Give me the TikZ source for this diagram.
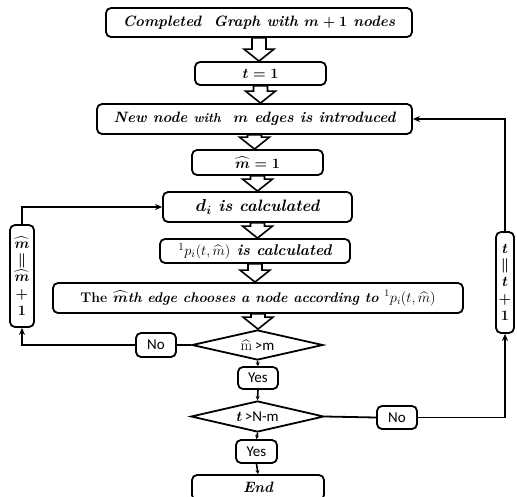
\documentclass[tikz,border=0pt]{standalone}
\usepackage{amsmath,bm}
\usepackage{fontspec}
\setsansfont{Carlito}
\usetikzlibrary{shapes.geometric,calc,arrows.meta}
\newcommand\blockarr[2]{\draw[blk] let \p1=(#1.south), \p2=(#2.north) in
  (\x1-7pt,\y1) -- (\x1+7pt,\y1) -- (\x1+7pt,\y2+12pt) -- (\x1+15pt,\y2+12pt) -- (\x1,\y2)
  -- (\x1-15pt,\y2+12pt) -- (\x1-7pt,\y2+12pt) -- cycle;}
\newcommand\condA{\mbox{$\widehat{\mathrm{m}}$\,\textsf{>m}}}
\newcommand\condB{\mbox{\boldmath$t$\unboldmath\,\textsf{>N-m}}}
\begin{document}
\begin{tikzpicture}[x=1pt,y=-1pt,
  box/.style={draw, line width=1.8pt, rounded corners=5pt, inner sep=0pt, align=center},
  bi/.style={font=\fontsize{#1}{17}\selectfont\boldmath\bfseries\itshape},
  bi/.default=15,
  sf/.style={font=\sffamily\fontsize{15}{17}\selectfont},
  decision/.style={draw, line width=1.8pt, shape=diamond, inner sep=0pt, aspect=4, font=\fontsize{15}{17}\selectfont},
  blk/.style={draw, line width=1.6pt, fill=white, line join=miter},
  conn/.style={line width=1.8pt, -{Stealth[length=7pt,width=6pt]}},
  thin/.style={line width=1.6pt, -{Stealth[length=4pt,width=4pt]}},
  ln/.style={line width=1.8pt}]
\useasboundingbox (0,0) rectangle (517,496);
\node[box,bi=15,minimum width=306pt,minimum height=29pt] (b1) at (259,22.5) {Completed\ \ Graph with $m+1$ nodes};
\node[box,bi=15.5,minimum width=131pt,minimum height=23pt] (b2) at (260.5,73.5) {$t=1$};
\node[box,bi=15,minimum width=315pt,minimum height=30pt] (b3) at (254.5,119) {New node {\fontsize{13}{15}\selectfont with} \ $m$ edges is introduced};
\node[box,bi=14,minimum width=131pt,minimum height=25pt] (b4) at (257.5,162.5) {$\widehat{m}=1$};
\node[box,bi=16.5,minimum width=189pt,minimum height=30pt] (b5) at (257.5,207) {$d_i$ is calculated};
\node[box,bi=15.5,minimum width=190pt,minimum height=24pt] (b6) at (255,251) {{\unboldmath$^1p_i(t,\widehat{m})$} is calculated};
\node[box,bi=14,minimum width=410pt,minimum height=30pt] (b7) at (258,298) {{\upshape The} $\widehat{m}$th edge chooses a node according to {\unboldmath$^1p_i(t,\widehat{m})$}};
\node[decision,minimum width=131pt,minimum height=30pt] (d1) at (257.5,345) {\condA};
\node[box,sf,minimum width=40pt,minimum height=24pt] (no1) at (156,345) {No};
\node[box,bi=15,minimum width=24pt,minimum height=102pt] (lb) at (22,276) {$\widehat{m}$\\[-1pt]$\Vert$\\$\widehat{m}$\\$+$\\$1$};
\node[box,sf,minimum width=40pt,minimum height=22pt] (y1) at (258,378) {Yes};
\node[decision,minimum width=133pt,minimum height=31pt] (d2) at (257.5,416.5) {\condB};
\node[box,sf,minimum width=40pt,minimum height=23pt] (no2) at (397,417.5) {No};
\node[box,sf,minimum width=41pt,minimum height=23pt] (y2) at (256.5,451.5) {Yes};
\node[box,bi=15,minimum width=132pt,minimum height=25pt] (end) at (258,487.5) {End};
\node[box,bi=15,minimum width=18pt,minimum height=101pt] (rb) at (505,282.5) {$t$\\[-1pt]$\Vert$\\$t$\\$+$\\$1$};
\blockarr{b1}{b2}
\blockarr{b2}{b3}
\blockarr{b3}{b4}
\blockarr{b4}{b5}
\blockarr{b5}{b6}
\blockarr{b6}{b7}
\blockarr{b7}{d1}
\draw[ln] (d1.west) -- (no1.east);
\draw[conn] (no1.west) -| (lb.south);
\draw[conn] (lb.north) |- (b5.west);
\draw[thin] (d1.south) -- (y1.north);
\draw[thin] (y1.south) -- (d2.north);
\draw[thin] (d2.south) -- (y2.north);
\draw[thin] (y2.south) -- (end.north);
\draw[ln] (d2.east) -- (no2.west);
\draw[conn] (no2.east) -| (rb.south);
\draw[conn] (rb.north) |- (b3.east);
\end{tikzpicture}
\end{document}
